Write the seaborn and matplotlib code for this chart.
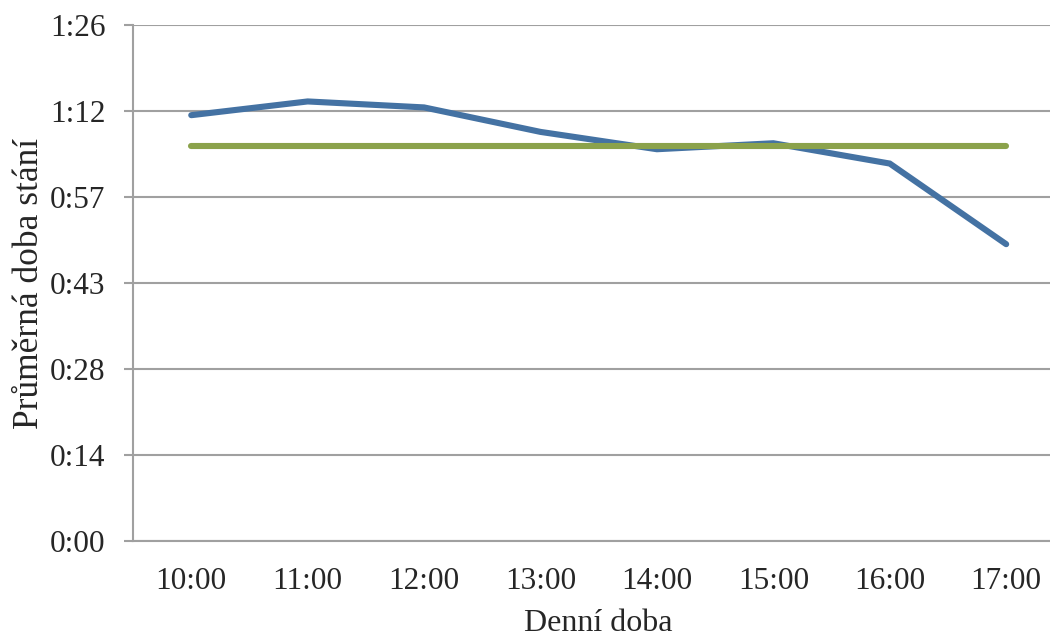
import matplotlib
matplotlib.use("Agg")
import matplotlib.pyplot as plt
from matplotlib.ticker import FixedLocator, FuncFormatter
import seaborn as sns
import pandas as pd

# Average standing time per hour of day (minutes)
hours = ["10:00", "11:00", "12:00", "13:00", "14:00", "15:00", "16:00", "17:00"]
avg_minutes = [71.3, 73.6, 72.6, 68.5, 65.6, 66.6, 63.2, 49.7]
overall_avg = [66.2] * len(hours)

# y ticks every 0.01 day (14.4 min), shown as h:mm
y_ticks = [0, 14.4, 28.8, 43.2, 57.6, 72.0, 86.4]

sns.set_theme(style="white")
plt.rcParams["font.family"] = ["Liberation Serif", "DejaVu Serif"]

df = pd.DataFrame({"hodina": hours, "prumer": avg_minutes, "celkem": overall_avg})

fig = plt.figure(figsize=(10.5, 6.41), dpi=100)
ax = fig.add_axes([0.1267, 0.156, 0.887, 0.805])

sns.lineplot(data=df, x="hodina", y="prumer", ax=ax, color="#4472A3",
             linewidth=4.4, solid_capstyle="round", solid_joinstyle="miter",
             sort=False, zorder=3)
sns.lineplot(data=df, x="hodina", y="celkem", ax=ax, color="#8BA24B",
             linewidth=4.4, solid_capstyle="round", sort=False, zorder=4)


def fmt_time(v, pos):
    h = int(v // 60)
    m = int(round(v - h * 60, 6))
    return f"{h}:{m:02d}"


ax.set_xlim(-0.5, len(hours) - 0.5)
ax.set_ylim(0, 86.4)
ax.yaxis.set_major_locator(FixedLocator(y_ticks))
ax.yaxis.set_major_formatter(FuncFormatter(fmt_time))

ax.grid(axis="y", color="#A0A0A0", linewidth=1.5)
ax.grid(axis="x", visible=False)
ax.set_axisbelow(True)

for side in ("top", "right"):
    ax.spines[side].set_visible(False)
for side in ("left", "bottom"):
    ax.spines[side].set_color("#A0A0A0")
    ax.spines[side].set_linewidth(1.5)

ax.tick_params(axis="y", which="major", direction="out", length=6.5, width=1.5,
               color="#A0A0A0", labelsize=22.5, pad=13.5, left=True)
ax.tick_params(axis="x", which="major", length=0, labelsize=22.5, pad=19)

ax.set_xlabel("Denní doba", fontsize=23, labelpad=9)
ax.set_ylabel("Průměrná doba stání", fontsize=25.5, labelpad=3)

fig.savefig("out.png", dpi=100)
